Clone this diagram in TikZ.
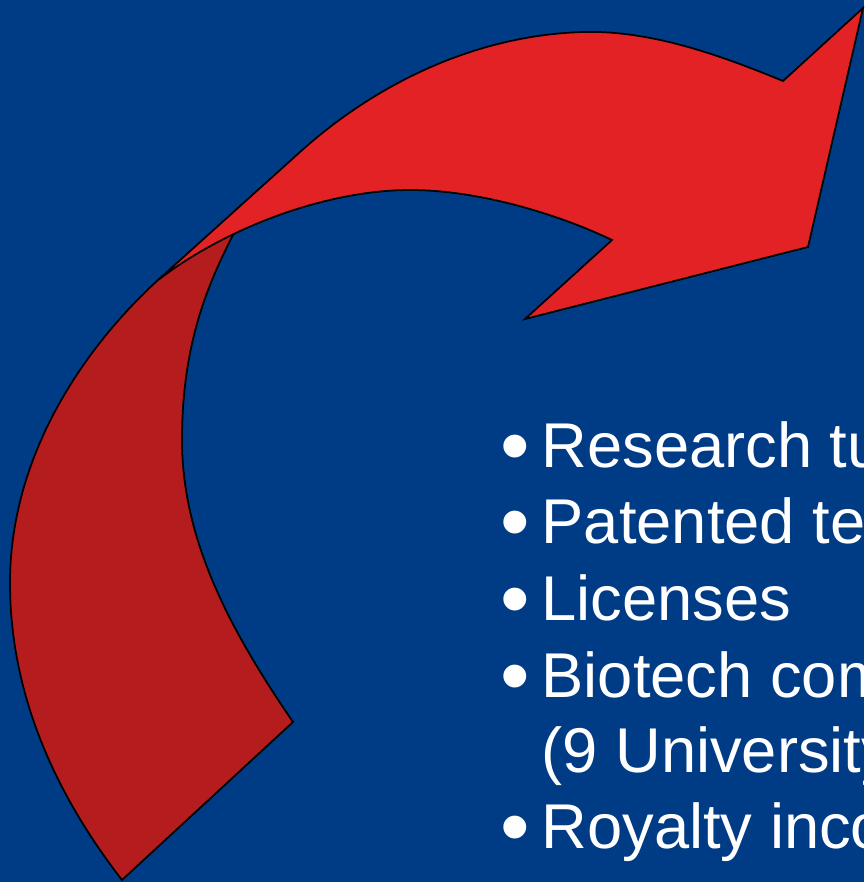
\documentclass[tikz,border=0pt]{standalone}
\usepackage{fontspec}
\setmainfont{Liberation Sans}
\definecolor{slideblue}{RGB}{0,60,133}
\definecolor{arrowred}{RGB}{227,34,38}
\definecolor{arrowdark}{RGB}{181,28,29}

\begin{document}
\begin{tikzpicture}[x=0.1mm, y=-0.1mm,
                    item/.style={anchor=base west, inner sep=0pt, text=white,
                                 font=\fontsize{18}{21.6}\selectfont},
                    dotitem/.style={item, font=\fontsize{24}{24}\selectfont},
                    piece/.style={draw=black, line width=0.5pt, line join=miter}]
    \useasboundingbox (0,0) rectangle (864,882);
    \clip (0,0) rectangle (864,882);
    \fill[slideblue] (0,0) rectangle (864,882);
    % back part of the curved arrow
    \draw[piece, fill=arrowdark]
        (158,280) .. controls (90,342) and (10,450) .. (10,583)
        .. controls (10,700) and (60,800) .. (122,880)
        -- (293,722)
        .. controls (230,630) and (182,540) .. (182,440)
        .. controls (182,340) and (210,280) .. (235,231)
        .. controls (205,246) and (180,263) .. cycle;
    % front part with the head
    \draw[piece, fill=arrowred]
        (158,280) -- (300,152)
        .. controls (380,80) and (480,35) .. (583,32)
        .. controls (650,30) and (720,55) .. (783,81)
        -- (863,8) -- (808,247) -- (525,319) -- (612,240)
        .. controls (560,215) and (480,190) .. (410,190)
        .. controls (330,190) and (230,225) .. cycle;
    % bullet list
    \foreach \nm/\yy/\txt in {res/467/Research tu, pat/543/Patented te, lic/620/Licenses,
                              bio/697/Biotech com, uni/772/(9 University, roy/848/Royalty inco}
        \node[item] (\nm) at (541,\yy) {\txt};
    \foreach \k/\yy in {1/467, 2/543, 3/620, 4/697, 5/848}
        \node[dotitem] (b\k) at (500,\yy+7) {•};
\end{tikzpicture}
\end{document}
